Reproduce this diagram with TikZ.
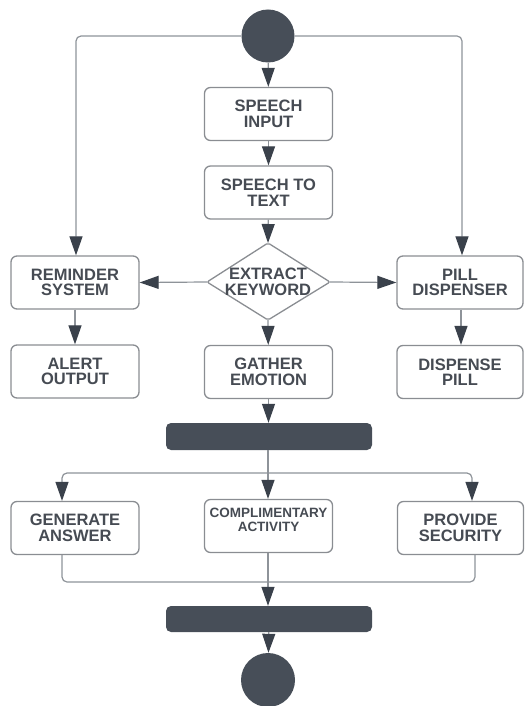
\documentclass[tikz,border=0pt]{standalone}
\usepackage{fontspec}
\setmainfont{Liberation Sans}
\usetikzlibrary{arrows.meta,shapes.geometric}
\definecolor{dk}{HTML}{474E58}
\definecolor{ah}{HTML}{3A414B}
\definecolor{ln}{HTML}{8E9399}
\definecolor{bx}{HTML}{8A8D92}
\definecolor{tx}{HTML}{464B53}
\begin{document}
\begin{tikzpicture}[x=1pt,y=-1pt,
  box/.style={draw=bx,line width=1.3pt,rounded corners=6pt,minimum width=128pt,minimum height=53pt,
    align=center,text=tx,font=\fontsize{16.5}{15.5}\selectfont\bfseries,inner sep=0pt},
  solid/.style={fill=dk,draw=none},
  tip/.style={-{Triangle[length=19pt,width=13pt,fill=ah,color=ah]}},
  arr/.style={draw=ln,line width=1.2pt,tip},
  ln/.style={draw=ln,line width=1.2pt,rounded corners=5pt}]
\useasboundingbox (0,0) rectangle (525,706);
% start / end
\node[solid,circle,minimum size=53pt,inner sep=0pt] (start) at (268,36) {};
\node[solid,circle,minimum size=54pt,inner sep=0pt] (end) at (268,680) {};
% boxes
\node[box] (si) at (268.5,114) {SPEECH\\INPUT};
\node[box] (st) at (268.5,192.5) {SPEECH TO\\TEXT};
\node[box] (rs) at (75,282.5) {REMINDER\\SYSTEM};
\node[box] (ao) at (75,371.5) {ALERT\\OUTPUT};
\node[box] (ge) at (268.5,372) {GATHER\\EMOTION};
\node[box,minimum width=126pt] (pd) at (460,282.5) {PILL\\DISPENSER};
\node[box,minimum width=126pt] (dp) at (460,372) {DISPENSE\\PILL};
\node[box] (ga) at (75,528) {GENERATE\\ANSWER};
\node[box,font=\fontsize{13.5}{14}\selectfont\bfseries,text depth=12pt] (ca) at (268.5,526) {COMPLIMENTARY\\ACTIVITY};
\node[box,minimum width=126pt] (ps) at (460.5,528) {PROVIDE\\SECURITY};
% diamond
\coordinate (dn) at (268,243);
\coordinate (ds) at (268,320);
\coordinate (dw) at (207,282);
\coordinate (de) at (330,282);
\draw[draw=bx,line width=1.3pt,rounded corners=2pt] (dn) -- (de) -- (ds) -- (dw) -- cycle;
\node[text=tx,font=\fontsize{16.5}{15.5}\selectfont\bfseries,align=center,inner sep=0pt] (ek) at (268,282) {EXTRACT\\KEYWORD};
% bars
\node[solid,rounded corners=5pt,minimum width=206pt,minimum height=27pt,inner sep=0pt] (b1) at (269,436.5) {};
\node[solid,rounded corners=5pt,minimum width=206pt,minimum height=26pt,inner sep=0pt] (b2) at (269,619) {};
% top connectors
\draw[arr] (start) -- (si);
\draw[arr] (si) -- (st);
\draw[arr] (st) -- (dn);
\draw[ln,tip] (start.west) -| (rs.north -| 76,0);
\draw[ln,tip] (start.east) -| (pd.north -| 462,0);
\draw[arr] (dw) -- (rs.east);
\draw[arr] (de) -- (pd.west);
\draw[arr] (ds) -- (ge);
\draw[arr] (rs) -- (ao);
\draw[arr] ([xshift=1pt]pd.south) -- ([xshift=1pt]dp.north);
\draw[arr] (ge) -- (b1.north -| ge);
% fork
\coordinate (fk) at (268,473);
\coordinate (fl) at (62,473);
\coordinate (fr) at (472,473);
\draw[ln] (b1.south -| fk) -- (fk);
\draw[ln,tip] (fk) -- (fl) -- (ga.north -| fl);
\draw[ln,tip] (fk) -- (fr) -- (ps.north -| fr);
\draw[arr] (fk) -- (ca.north -| fk);
% join
\coordinate (jn) at (268,582);
\coordinate (jl) at (62,582);
\coordinate (jr) at (475,582);
\draw[ln] (ga.south -| jl) -- (jl) -- (jn);
\draw[ln] (ps.south -| jr) -- (jr) -- (jn);
\draw[arr] (ca.south -| jn) -- (b2.north -| jn);
\draw[arr] (b2) -- (end);
\end{tikzpicture}
\end{document}
